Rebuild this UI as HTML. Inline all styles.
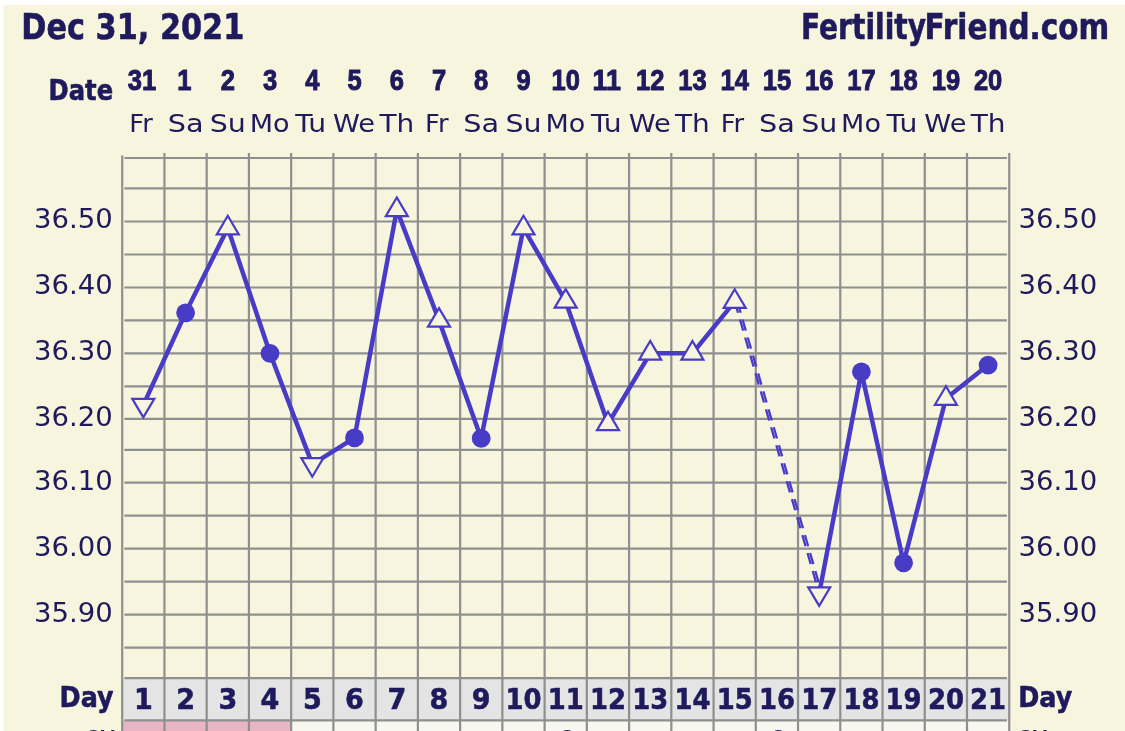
<!DOCTYPE html>
<html><head><meta charset="utf-8"><title>FertilityFriend.com chart</title>
<style>html,body{margin:0;padding:0;background:#fff;overflow:hidden}svg{display:block}text{font-family:"DejaVu Sans","Liberation Sans",sans-serif;fill:#1f1a5c}.b{font-weight:bold;stroke:#1f1a5c;stroke-width:0.6px;stroke-linejoin:round}.n{font-family:"Liberation Sans","DejaVu Sans",sans-serif;stroke-width:1px}</style></head><body>
<svg width="1125" height="731" viewBox="0 0 1125 731">
<rect x="0" y="0" width="1125" height="731" fill="#fff"/>
<defs><filter id="idf" x="0" y="0" width="1125" height="731" filterUnits="userSpaceOnUse" color-interpolation-filters="sRGB"><feOffset dx="0" dy="0"/></filter></defs>
<g filter="url(#idf)">
<rect x="3.5" y="5" width="1122" height="727" fill="#f7f5de"/>
<rect x="122.2" y="678" width="887.0" height="42.4" fill="#e4e4e4"/>
<rect x="122.2" y="720.4" width="169.0" height="11" fill="#e9b4c4"/>
<rect x="291.2" y="720.4" width="718.1" height="11" fill="#f8f8f0"/>
<g stroke="#8f8f8f" stroke-width="2.2" fill="none">
<line x1="124.4" y1="158.0" x2="1006.9" y2="158.0"/>
<line x1="124.4" y1="188.4" x2="1006.9" y2="188.4"/>
<line x1="124.4" y1="221.5" x2="1006.9" y2="221.5"/>
<line x1="124.4" y1="254.5" x2="1006.9" y2="254.5"/>
<line x1="124.4" y1="287.5" x2="1006.9" y2="287.5"/>
<line x1="124.4" y1="320.4" x2="1006.9" y2="320.4"/>
<line x1="124.4" y1="353.3" x2="1006.9" y2="353.3"/>
<line x1="124.4" y1="386.3" x2="1006.9" y2="386.3"/>
<line x1="124.4" y1="418.9" x2="1006.9" y2="418.9"/>
<line x1="124.4" y1="449.8" x2="1006.9" y2="449.8"/>
<line x1="124.4" y1="482.6" x2="1006.9" y2="482.6"/>
<line x1="124.4" y1="515.6" x2="1006.9" y2="515.6"/>
<line x1="124.4" y1="548.6" x2="1006.9" y2="548.6"/>
<line x1="124.4" y1="581.6" x2="1006.9" y2="581.6"/>
<line x1="124.4" y1="614.6" x2="1006.9" y2="614.6"/>
<line x1="124.4" y1="647.7" x2="1006.9" y2="647.7"/>
<line x1="124.4" y1="678.1" x2="1006.9" y2="678.1"/>
<line x1="124.4" y1="720.4" x2="1006.9" y2="720.4"/>
<line x1="122.20" y1="155.6" x2="122.20" y2="732"/>
<line x1="164.44" y1="153.1" x2="164.44" y2="732"/>
<line x1="206.68" y1="153.1" x2="206.68" y2="732"/>
<line x1="248.92" y1="153.1" x2="248.92" y2="732"/>
<line x1="291.16" y1="153.1" x2="291.16" y2="732"/>
<line x1="333.40" y1="153.1" x2="333.40" y2="732"/>
<line x1="375.64" y1="153.1" x2="375.64" y2="732"/>
<line x1="417.88" y1="153.1" x2="417.88" y2="732"/>
<line x1="460.12" y1="153.1" x2="460.12" y2="732"/>
<line x1="502.36" y1="153.1" x2="502.36" y2="732"/>
<line x1="544.60" y1="153.1" x2="544.60" y2="732"/>
<line x1="586.84" y1="153.1" x2="586.84" y2="732"/>
<line x1="629.08" y1="153.1" x2="629.08" y2="732"/>
<line x1="671.32" y1="153.1" x2="671.32" y2="732"/>
<line x1="713.56" y1="153.1" x2="713.56" y2="732"/>
<line x1="755.80" y1="153.1" x2="755.80" y2="732"/>
<line x1="798.04" y1="153.1" x2="798.04" y2="732"/>
<line x1="840.28" y1="153.1" x2="840.28" y2="732"/>
<line x1="882.52" y1="153.1" x2="882.52" y2="732"/>
<line x1="924.76" y1="153.1" x2="924.76" y2="732"/>
<line x1="967.00" y1="153.1" x2="967.00" y2="732"/>
<line x1="1009.24" y1="153.1" x2="1009.24" y2="732"/>
</g>
<text class="b" x="21.3" y="38.5" font-size="35.5" textLength="223" lengthAdjust="spacingAndGlyphs">Dec 31, 2021</text>
<text class="b" y="38.5" font-size="35.5"><tspan x="801" textLength="125" lengthAdjust="spacingAndGlyphs">Fertility</tspan><tspan x="924.6" textLength="184.5" lengthAdjust="spacingAndGlyphs">Friend.com</tspan></text>
<text class="b" x="48.6" y="99.5" font-size="28" textLength="64.5" lengthAdjust="spacingAndGlyphs">Date</text>
<text class="b n" x="127.8" y="90.3" font-size="29" textLength="28.4" lengthAdjust="spacingAndGlyphs">31</text>
<text transform="translate(141.0,131.5) scale(1.03,1)" font-size="25" text-anchor="middle">Fr</text>
<text class="b n" x="177.2" y="90.3" font-size="29" textLength="14.2" lengthAdjust="spacingAndGlyphs">1</text>
<text transform="translate(185.6,131.5) scale(1.15,1)" font-size="25" text-anchor="middle">Sa</text>
<text class="b n" x="220.7" y="90.3" font-size="29" textLength="14.2" lengthAdjust="spacingAndGlyphs">2</text>
<text transform="translate(227.8,131.5) scale(1.14,1)" font-size="25" text-anchor="middle">Su</text>
<text class="b n" x="262.9" y="90.3" font-size="29" textLength="14.2" lengthAdjust="spacingAndGlyphs">3</text>
<text transform="translate(269.6,131.5) scale(1.08,1)" font-size="25" text-anchor="middle">Mo</text>
<text class="b n" x="305.2" y="90.3" font-size="29" textLength="14.2" lengthAdjust="spacingAndGlyphs">4</text>
<text transform="translate(310.6,131.5) scale(1.13,1)" font-size="25" text-anchor="middle">Tu</text>
<text class="b n" x="347.4" y="90.3" font-size="29" textLength="14.2" lengthAdjust="spacingAndGlyphs">5</text>
<text transform="translate(354.0,131.5) scale(1.09,1)" font-size="25" text-anchor="middle">We</text>
<text class="b n" x="389.7" y="90.3" font-size="29" textLength="14.2" lengthAdjust="spacingAndGlyphs">6</text>
<text transform="translate(396.8,131.5) scale(1.12,1)" font-size="25" text-anchor="middle">Th</text>
<text class="b n" x="431.9" y="90.3" font-size="29" textLength="14.2" lengthAdjust="spacingAndGlyphs">7</text>
<text transform="translate(436.7,131.5) scale(1.03,1)" font-size="25" text-anchor="middle">Fr</text>
<text class="b n" x="474.1" y="90.3" font-size="29" textLength="14.2" lengthAdjust="spacingAndGlyphs">8</text>
<text transform="translate(481.2,131.5) scale(1.15,1)" font-size="25" text-anchor="middle">Sa</text>
<text class="b n" x="516.4" y="90.3" font-size="29" textLength="14.2" lengthAdjust="spacingAndGlyphs">9</text>
<text transform="translate(523.5,131.5) scale(1.14,1)" font-size="25" text-anchor="middle">Su</text>
<text class="b n" x="551.5" y="90.3" font-size="29" textLength="28.4" lengthAdjust="spacingAndGlyphs">10</text>
<text transform="translate(565.3,131.5) scale(1.08,1)" font-size="25" text-anchor="middle">Mo</text>
<text class="b n" x="592.5" y="90.3" font-size="29" textLength="28.4" lengthAdjust="spacingAndGlyphs">11</text>
<text transform="translate(606.3,131.5) scale(1.13,1)" font-size="25" text-anchor="middle">Tu</text>
<text class="b n" x="636.0" y="90.3" font-size="29" textLength="28.4" lengthAdjust="spacingAndGlyphs">12</text>
<text transform="translate(649.7,131.5) scale(1.09,1)" font-size="25" text-anchor="middle">We</text>
<text class="b n" x="678.2" y="90.3" font-size="29" textLength="28.4" lengthAdjust="spacingAndGlyphs">13</text>
<text transform="translate(692.4,131.5) scale(1.12,1)" font-size="25" text-anchor="middle">Th</text>
<text class="b n" x="720.5" y="90.3" font-size="29" textLength="28.4" lengthAdjust="spacingAndGlyphs">14</text>
<text transform="translate(732.4,131.5) scale(1.03,1)" font-size="25" text-anchor="middle">Fr</text>
<text class="b n" x="762.7" y="90.3" font-size="29" textLength="28.4" lengthAdjust="spacingAndGlyphs">15</text>
<text transform="translate(776.9,131.5) scale(1.15,1)" font-size="25" text-anchor="middle">Sa</text>
<text class="b n" x="805.0" y="90.3" font-size="29" textLength="28.4" lengthAdjust="spacingAndGlyphs">16</text>
<text transform="translate(819.2,131.5) scale(1.14,1)" font-size="25" text-anchor="middle">Su</text>
<text class="b n" x="847.2" y="90.3" font-size="29" textLength="28.4" lengthAdjust="spacingAndGlyphs">17</text>
<text transform="translate(861.0,131.5) scale(1.08,1)" font-size="25" text-anchor="middle">Mo</text>
<text class="b n" x="889.4" y="90.3" font-size="29" textLength="28.4" lengthAdjust="spacingAndGlyphs">18</text>
<text transform="translate(901.9,131.5) scale(1.13,1)" font-size="25" text-anchor="middle">Tu</text>
<text class="b n" x="931.7" y="90.3" font-size="29" textLength="28.4" lengthAdjust="spacingAndGlyphs">19</text>
<text transform="translate(945.4,131.5) scale(1.09,1)" font-size="25" text-anchor="middle">We</text>
<text class="b n" x="973.9" y="90.3" font-size="29" textLength="28.4" lengthAdjust="spacingAndGlyphs">20</text>
<text transform="translate(988.1,131.5) scale(1.12,1)" font-size="25" text-anchor="middle">Th</text>
<text x="34" y="228.4" font-size="27" textLength="78.7" lengthAdjust="spacingAndGlyphs">36.50</text>
<text x="1018.6" y="228.4" font-size="27" textLength="78.7" lengthAdjust="spacingAndGlyphs">36.50</text>
<text x="34" y="294.4" font-size="27" textLength="78.7" lengthAdjust="spacingAndGlyphs">36.40</text>
<text x="1018.6" y="294.4" font-size="27" textLength="78.7" lengthAdjust="spacingAndGlyphs">36.40</text>
<text x="34" y="360.2" font-size="27" textLength="78.7" lengthAdjust="spacingAndGlyphs">36.30</text>
<text x="1018.6" y="360.2" font-size="27" textLength="78.7" lengthAdjust="spacingAndGlyphs">36.30</text>
<text x="34" y="425.8" font-size="27" textLength="78.7" lengthAdjust="spacingAndGlyphs">36.20</text>
<text x="1018.6" y="425.8" font-size="27" textLength="78.7" lengthAdjust="spacingAndGlyphs">36.20</text>
<text x="34" y="489.5" font-size="27" textLength="78.7" lengthAdjust="spacingAndGlyphs">36.10</text>
<text x="1018.6" y="489.5" font-size="27" textLength="78.7" lengthAdjust="spacingAndGlyphs">36.10</text>
<text x="34" y="555.5" font-size="27" textLength="78.7" lengthAdjust="spacingAndGlyphs">36.00</text>
<text x="1018.6" y="555.5" font-size="27" textLength="78.7" lengthAdjust="spacingAndGlyphs">36.00</text>
<text x="34" y="621.5" font-size="27" textLength="78.7" lengthAdjust="spacingAndGlyphs">35.90</text>
<text x="1018.6" y="621.5" font-size="27" textLength="78.7" lengthAdjust="spacingAndGlyphs">35.90</text>
<text class="b" x="59.6" y="707.3" font-size="29" textLength="54" lengthAdjust="spacingAndGlyphs">Day</text>
<text class="b" x="1018.2" y="707.3" font-size="29" textLength="54" lengthAdjust="spacingAndGlyphs">Day</text>
<text class="b" x="133.9" y="709.4" font-size="29" textLength="18.8" lengthAdjust="spacingAndGlyphs">1</text>
<text class="b" x="176.2" y="709.4" font-size="29" textLength="18.8" lengthAdjust="spacingAndGlyphs">2</text>
<text class="b" x="218.4" y="709.4" font-size="29" textLength="18.8" lengthAdjust="spacingAndGlyphs">3</text>
<text class="b" x="260.6" y="709.4" font-size="29" textLength="18.8" lengthAdjust="spacingAndGlyphs">4</text>
<text class="b" x="302.9" y="709.4" font-size="29" textLength="18.8" lengthAdjust="spacingAndGlyphs">5</text>
<text class="b" x="345.1" y="709.4" font-size="29" textLength="18.8" lengthAdjust="spacingAndGlyphs">6</text>
<text class="b" x="387.4" y="709.4" font-size="29" textLength="18.8" lengthAdjust="spacingAndGlyphs">7</text>
<text class="b" x="429.6" y="709.4" font-size="29" textLength="18.8" lengthAdjust="spacingAndGlyphs">8</text>
<text class="b" x="471.8" y="709.4" font-size="29" textLength="18.8" lengthAdjust="spacingAndGlyphs">9</text>
<text class="b" x="505.5" y="709.4" font-size="29" textLength="36.0" lengthAdjust="spacingAndGlyphs">10</text>
<text class="b" x="547.7" y="709.4" font-size="29" textLength="36.0" lengthAdjust="spacingAndGlyphs">11</text>
<text class="b" x="590.0" y="709.4" font-size="29" textLength="36.0" lengthAdjust="spacingAndGlyphs">12</text>
<text class="b" x="632.2" y="709.4" font-size="29" textLength="36.0" lengthAdjust="spacingAndGlyphs">13</text>
<text class="b" x="674.4" y="709.4" font-size="29" textLength="36.0" lengthAdjust="spacingAndGlyphs">14</text>
<text class="b" x="716.7" y="709.4" font-size="29" textLength="36.0" lengthAdjust="spacingAndGlyphs">15</text>
<text class="b" x="758.9" y="709.4" font-size="29" textLength="36.0" lengthAdjust="spacingAndGlyphs">16</text>
<text class="b" x="801.2" y="709.4" font-size="29" textLength="36.0" lengthAdjust="spacingAndGlyphs">17</text>
<text class="b" x="843.4" y="709.4" font-size="29" textLength="36.0" lengthAdjust="spacingAndGlyphs">18</text>
<text class="b" x="885.6" y="709.4" font-size="29" textLength="36.0" lengthAdjust="spacingAndGlyphs">19</text>
<text class="b" x="927.9" y="709.4" font-size="29" textLength="36.0" lengthAdjust="spacingAndGlyphs">20</text>
<text class="b" x="970.1" y="709.4" font-size="29" textLength="36.0" lengthAdjust="spacingAndGlyphs">21</text>
<polyline fill="none" stroke="#483cc6" stroke-width="4.5" stroke-linejoin="round" points="143.3,405.1 185.6,312.8 227.8,228.1 270.0,353.3 312.3,464.4 354.5,437.9 396.8,209.8 439.0,320.4 481.2,438.4 523.5,228.1 565.7,301.4 608.0,423.9 650.2,353.3 692.4,353.3 734.7,301.6"/>
<polyline fill="none" stroke="#483cc6" stroke-width="4.5" stroke-linejoin="round" points="819.2,593.6 861.4,371.8 903.6,562.8 945.9,398.5 988.1,365.1"/>
<line x1="734.78" y1="301.56" x2="819.26" y2="593.60" stroke="#483cc6" stroke-width="2.3" stroke-dasharray="11.6 7.1"/>
<line x1="737.38" y1="301.56" x2="821.86" y2="593.60" stroke="#483cc6" stroke-width="2.3" stroke-dasharray="11.6 7.1"/>
<polygon points="143.3,417.4 132.3,398.8 154.3,398.8" fill="#f7f5de" stroke="#483cc6" stroke-width="2.2" stroke-linejoin="miter"/>
<circle cx="185.6" cy="312.8" r="9.4" fill="#483cc6"/>
<polygon points="227.8,215.8 216.8,234.4 238.8,234.4" fill="#f7f5de" stroke="#483cc6" stroke-width="2.2" stroke-linejoin="miter"/>
<circle cx="270.0" cy="353.3" r="9.4" fill="#483cc6"/>
<polygon points="312.3,476.7 301.3,458.1 323.3,458.1" fill="#f7f5de" stroke="#483cc6" stroke-width="2.2" stroke-linejoin="miter"/>
<circle cx="354.5" cy="437.9" r="9.4" fill="#483cc6"/>
<polygon points="396.8,197.5 385.8,216.1 407.8,216.1" fill="#f7f5de" stroke="#483cc6" stroke-width="2.2" stroke-linejoin="miter"/>
<polygon points="439.0,308.1 428.0,326.7 450.0,326.7" fill="#f7f5de" stroke="#483cc6" stroke-width="2.2" stroke-linejoin="miter"/>
<circle cx="481.2" cy="438.4" r="9.4" fill="#483cc6"/>
<polygon points="523.5,215.8 512.5,234.4 534.5,234.4" fill="#f7f5de" stroke="#483cc6" stroke-width="2.2" stroke-linejoin="miter"/>
<polygon points="565.7,289.1 554.7,307.7 576.7,307.7" fill="#f7f5de" stroke="#483cc6" stroke-width="2.2" stroke-linejoin="miter"/>
<polygon points="608.0,411.6 597.0,430.2 619.0,430.2" fill="#f7f5de" stroke="#483cc6" stroke-width="2.2" stroke-linejoin="miter"/>
<polygon points="650.2,341.0 639.2,359.6 661.2,359.6" fill="#f7f5de" stroke="#483cc6" stroke-width="2.2" stroke-linejoin="miter"/>
<polygon points="692.4,341.0 681.4,359.6 703.4,359.6" fill="#f7f5de" stroke="#483cc6" stroke-width="2.2" stroke-linejoin="miter"/>
<polygon points="734.7,289.3 723.7,307.9 745.7,307.9" fill="#f7f5de" stroke="#483cc6" stroke-width="2.2" stroke-linejoin="miter"/>
<polygon points="819.2,605.9 808.2,587.3 830.2,587.3" fill="#f7f5de" stroke="#483cc6" stroke-width="2.2" stroke-linejoin="miter"/>
<circle cx="861.4" cy="371.8" r="9.4" fill="#483cc6"/>
<circle cx="903.6" cy="562.8" r="9.4" fill="#483cc6"/>
<polygon points="945.9,386.2 934.9,404.8 956.9,404.8" fill="#f7f5de" stroke="#483cc6" stroke-width="2.2" stroke-linejoin="miter"/>
<circle cx="988.1" cy="365.1" r="9.4" fill="#483cc6"/>
<text x="116.2" y="744.0" font-size="20" text-anchor="end">CM</text>
<text x="1017.2" y="744.0" font-size="20">CM</text>
<text x="565.7" y="744.0" font-size="20" text-anchor="middle">C</text>
<text x="776.9" y="744.0" font-size="20" text-anchor="middle">C</text>
</g>
</svg></body></html>
